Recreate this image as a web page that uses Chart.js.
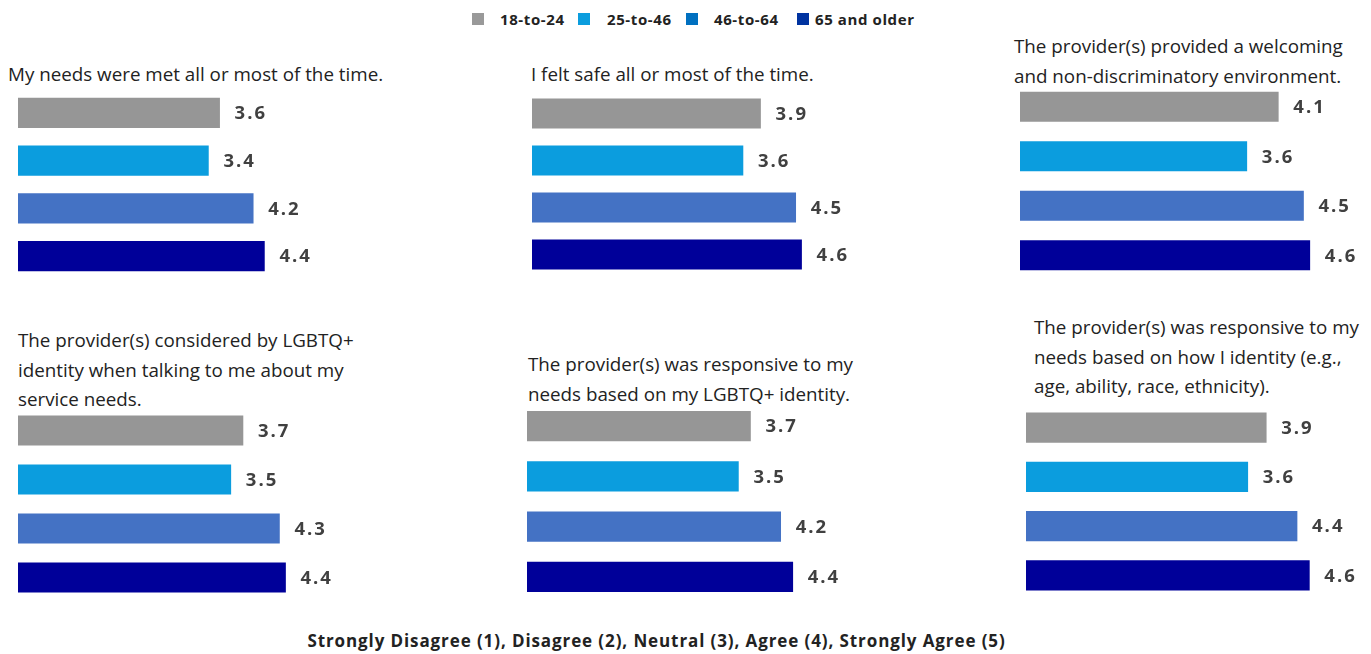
<!DOCTYPE html>
<html>
<head>
<meta charset="utf-8">
<script src="https://cdn.jsdelivr.net/npm/chart.js@4"></script>
<style>
  html, body { margin: 0; padding: 0; background: #fff; }
  body { width: 1371px; height: 654px; position: relative; overflow: hidden; font-family: "Open Sans", sans-serif; }
  .panel { position: absolute; }
  .title { position: absolute; font-size: 18.8px; line-height: 29.5px; color: #222; white-space: nowrap; }
  .lg-sw { position: absolute; width: 12px; height: 12px; top: 13px; }
  .lg-tx { position: absolute; top: 8px; font-size: 15px; line-height: 22px; font-weight: 700; color: #222; white-space: nowrap; letter-spacing: 0.6px; }
  #footer { position: absolute; top: 629px; left: 0; width: 1313px; text-align: center; font-size: 17px; line-height: 24px; font-weight: 700; color: #222; white-space: nowrap; letter-spacing: 0.9px; }
</style>
</head>
<body>
<div id="footer"></div>
<script>
// ---- data ----
const ageGroups = ["18-to-24", "25-to-46", "46-to-64", "65 and older"];
const questions = [
  ["My needs were met all or most of the time."],
  ["I felt safe all or most of the time."],
  ["The provider(s) provided a welcoming", "and non-discriminatory environment."],
  ["The provider(s) considered by LGBTQ+", "identity when talking to me about my", "service needs."],
  ["The provider(s) was responsive to my", "needs based on my LGBTQ+ identity."],
  ["The provider(s) was responsive to my", "needs based on how I identity (e.g.,", "age, ability, race, ethnicity)."]
];
const s18to24   = [3.6, 3.9, 4.1, 3.7, 3.7, 3.9];
const s25to46   = [3.4, 3.6, 3.6, 3.5, 3.5, 3.6];
const s46to64   = [4.2, 4.5, 4.5, 4.3, 4.2, 4.4];
const s65older  = [4.4, 4.6, 4.6, 4.4, 4.4, 4.6];
const footerText = "Strongly Disagree (1), Disagree (2), Neutral (3), Agree (4), Strongly Agree (5)";

// ---- styles ----
const barColors    = ["#969696", "#0B9DDE", "#4472C4", "#000099"];
const legendColors = ["#999999", "#0B9DDE", "#0070C0", "#0033A0"];
const legendSwatchX = [472, 578, 686, 797];
const legendTextX   = [500, 607, 714, 815];

// layout of each panel: bar origin x, px per unit, top of plot, spacing, title pos
const layout = [
  { left: 18,   ppu: 56.0, top: 89,  step: 47.7, tx: 8,    ty: 60 },
  { left: 532,  ppu: 58.5, top: 90,  step: 47.0, tx: 531,  ty: 60 },
  { left: 1020, ppu: 63.0, top: 82,  step: 49.5, tx: 1014, ty: 32 },
  { left: 18,   ppu: 60.8, top: 406, step: 49.0, tx: 18,   ty: 326 },
  { left: 527,  ppu: 60.3, top: 401, step: 50.3, tx: 528,  ty: 350 },
  { left: 1026, ppu: 61.5, top: 403, step: 49.3, tx: 1034, ty: 313 }
];

// legend + footer
ageGroups.forEach((g, i) => {
  const sw = document.createElement('div');
  sw.className = 'lg-sw';
  sw.style.left = legendSwatchX[i] + 'px';
  sw.style.background = legendColors[i];
  document.body.appendChild(sw);
  const tx = document.createElement('div');
  tx.className = 'lg-tx';
  tx.style.left = legendTextX[i] + 'px';
  tx.textContent = g;
  document.body.appendChild(tx);
});
document.getElementById('footer').textContent = footerText;

const valueLabels = {
  id: 'valueLabels',
  afterDatasetsDraw(chart) {
    const ctx = chart.ctx;
    ctx.save();
    ctx.font = "700 18.5px 'Open Sans', sans-serif";
    ctx.fillStyle = "#404040";
    ctx.textBaseline = "middle";
    ctx.textAlign = "left";
    try { ctx.letterSpacing = "2px"; } catch (e) {}
    const meta = chart.getDatasetMeta(0);
    meta.data.forEach((bar, i) => {
      const v = chart.data.datasets[0].data[i];
      ctx.fillText(v.toFixed(1), bar.x + 15, bar.y + 1);
    });
    ctx.restore();
  }
};

const padRight = 60;
questions.forEach((q, qi) => {
  const L = layout[qi];
  const t = document.createElement('div');
  t.className = 'title';
  t.style.left = L.tx + 'px';
  t.style.top = L.ty + 'px';
  t.innerHTML = q.map(s => s.replace(/&/g,'&amp;').replace(/</g,'&lt;')).join('<br>');
  document.body.appendChild(t);

  const w = Math.round(5 * L.ppu) + padRight;
  const h = Math.round(4 * L.step);
  const wrap = document.createElement('div');
  wrap.className = 'panel';
  wrap.style.left = L.left + 'px';
  wrap.style.top = L.top + 'px';
  wrap.style.width = w + 'px';
  wrap.style.height = h + 'px';
  const cv = document.createElement('canvas');
  wrap.appendChild(cv);
  document.body.appendChild(wrap);

  const vals = [s18to24[qi], s25to46[qi], s46to64[qi], s65older[qi]];
  new Chart(cv, {
    type: 'bar',
    data: {
      labels: ageGroups,
      datasets: [{ data: vals, backgroundColor: barColors, borderWidth: 0, barThickness: 29.5 }]
    },
    options: {
      indexAxis: 'y',
      responsive: true,
      maintainAspectRatio: false,
      animation: false,
      layout: { padding: { left: 0, right: padRight, top: 0, bottom: 0 } },
      plugins: { legend: { display: false }, tooltip: { enabled: false }, title: { display: false } },
      scales: {
        x: { display: false, min: 0, max: 5, grid: { display: false } },
        y: { display: false, grid: { display: false } }
      }
    },
    plugins: [valueLabels]
  });
});
</script>
</body>
</html>
